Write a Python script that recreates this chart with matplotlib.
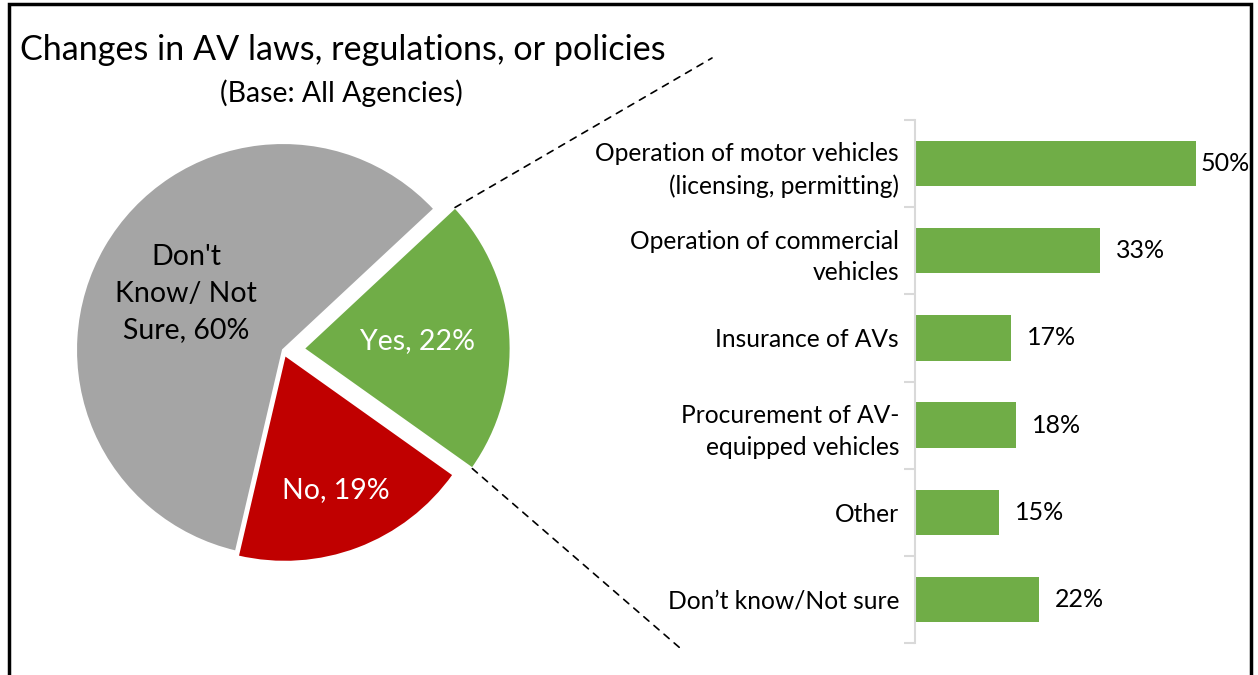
import numpy as np
import matplotlib
matplotlib.use("Agg")
import matplotlib.pyplot as plt
from matplotlib.patches import Rectangle, ConnectionPatch

plt.rcParams['font.family'] = ['Lato', 'DejaVu Sans']

# Pie data
pie_labels = ["Yes, 22%", "No, 19%", "Don't\nKnow/ Not\nSure, 60%"]
pie_values = [22, 19, 60]
pie_colors = ["#70AD47", "#C00000", "#A5A5A5"]
pie_text_colors = ["white", "white", "black"]

# Bar data (top to bottom)
bar_labels = ["Operation of motor vehicles\n(licensing, permitting)",
              "Operation of commercial\nvehicles",
              "Insurance of AVs",
              "Procurement of AV-\nequipped vehicles",
              "Other",
              "Don\u2019t know/Not sure"]
bar_values = [50, 33, 17, 18, 15, 22]

W, H = 1258, 675
fig = plt.figure(figsize=(W / 100, H / 100), dpi=100)


def px(x, y, w=0, h=0):
    # pixel box (from top-left) -> figure fraction [left, bottom, width, height]
    return [x / W, 1 - (y + h) / H, w / W, h / H]


# frame around the chart
fig.patches.append(Rectangle((9 / W, -0.05), (1251 - 9) / W, 1 - 4 / H + 0.05,
                             transform=fig.transFigure, fill=False,
                             edgecolor="black", linewidth=2.5))

# Title
fig.text(20 / W, 1 - 50 / H, "Changes in AV laws, regulations, or policies",
         fontsize=24.6, va="center", ha="left")
fig.text(341 / W, 1 - 93 / H, "(Base: All Agencies)", fontsize=20.5,
         va="center", ha="center")

# ---- Pie ----
R = 207
cx, cy = 283, 350
half = 1.3 * R
ax_pie = fig.add_axes(px(cx - half, cy - half, 2 * half, 2 * half))
explode = [0.1, 0.025, 0.0]
wedges, _ = ax_pie.pie(pie_values, colors=pie_colors, explode=explode,
                       startangle=43, counterclock=False,
                       wedgeprops=dict(edgecolor="white", linewidth=1.5))
ax_pie.set_xlim(-1.3, 1.3)
ax_pie.set_ylim(-1.3, 1.3)
ax_pie.set_aspect("equal")
ax_pie.axis("off")

label_r = [0.55, 0.7, 0.54]
for w, lab, col, r in zip(wedges, pie_labels, pie_text_colors, label_r):
    mid = np.deg2rad((w.theta1 + w.theta2) / 2)
    ox, oy = w.center
    ax_pie.text(ox + r * np.cos(mid), oy + r * np.sin(mid), lab, color=col,
                fontsize=20.5, ha="center", va="center", linespacing=1.5)

# ---- Bars ----
ax_bar = fig.add_axes(px(915, 120, 1198 - 917, 643 - 120))
ypos = np.arange(len(bar_values))
ax_bar.barh(ypos, bar_values, height=0.52, color="#70AD47")
ax_bar.set_xlim(0, 50)
ax_bar.set_ylim(len(bar_values) - 0.5, -0.5)
for s in ["top", "right", "bottom"]:
    ax_bar.spines[s].set_visible(False)
ax_bar.spines["left"].set_color("#D9D9D9")
ax_bar.spines["left"].set_linewidth(1.5)
ax_bar.set_xticks([])
ax_bar.set_yticks(ypos)
ax_bar.set_yticklabels(bar_labels, fontsize=17.7, linespacing=1.45)
ax_bar.tick_params(axis="y", length=0, pad=11.5)
ax_bar.set_yticks(np.arange(len(bar_values) + 1) - 0.5, minor=True)
ax_bar.tick_params(axis="y", which="minor", length=8, color="#D9D9D9", width=1.5)
for yv, v in zip(ypos, bar_values):
    off = 3.6 if v >= 45 else 11.5
    ax_bar.annotate(f"{v}%", (v, yv), xytext=(off, 0), textcoords="offset points",
                    va="center", ha="left", fontsize=18)

# dashed connector lines from the exploded green wedge
g = wedges[0]
gx, gy = g.center
for ang, end in [(g.theta1, (680, 648)), (g.theta2, (712, 58))]:
    a = np.deg2rad(ang)
    start = (gx + np.cos(a), gy + np.sin(a))
    con = ConnectionPatch(xyA=start, coordsA=ax_pie.transData,
                          xyB=(end[0] / W, 1 - end[1] / H), coordsB=fig.transFigure,
                          linestyle=(0, (4, 4)), color="black", linewidth=1.2)
    fig.add_artist(con)

fig.savefig("out.png", dpi=100)
